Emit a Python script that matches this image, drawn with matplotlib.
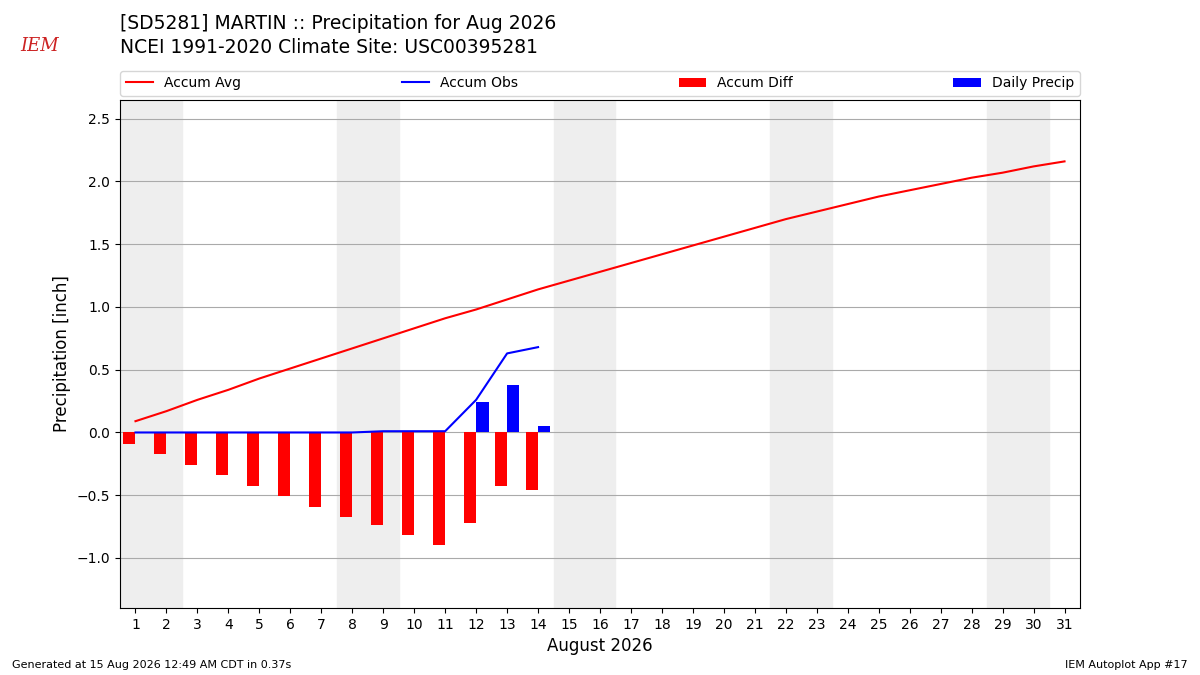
import matplotlib
matplotlib.use("Agg")
import matplotlib.pyplot as plt
import numpy as np

days = list(range(1, 32))
accum_avg = [0.09,0.17,0.26,0.34,0.43,0.51,0.59,0.67,0.75,0.83,0.91,0.98,1.06,1.14,1.21,1.28,1.35,1.42,1.49,1.56,1.63,1.70,1.76,1.82,1.88,1.93,1.98,2.03,2.07,2.12,2.16]
obs_days = list(range(1, 15))
accum_obs = [0,0,0,0,0,0,0,0,0.01,0.01,0.01,0.26,0.63,0.68]
daily_precip = [0,0,0,0,0,0,0,0,0.01,0,0,0.24,0.38,0.05]
weekends = [(1,2),(8,9),(15,16),(22,23),(29,30)]

fig = plt.figure(figsize=(12, 6.75), dpi=100)
ax = fig.add_axes([0.1, 0.099, 0.8, 0.753])
for a, b in weekends:
    ax.axvspan(a-0.5, b+0.5, color="#eeeeee", zorder=0)
diff = [o - accum_avg[i] for i, o in enumerate(accum_obs)]
od = np.array(obs_days)
ax.plot(days, accum_avg, color="red", lw=1.5, label="Accum Avg", zorder=3)
ax.plot(obs_days, accum_obs, color="blue", lw=1.5, label="Accum Obs", zorder=3)
ax.bar(od - 0.2, diff, width=0.4, color="red", label="Accum Diff", zorder=2)
ax.bar(od + 0.2, daily_precip, width=0.4, color="blue", label="Daily Precip", zorder=2)
ax.set_xlim(0.5, 31.5)
ax.set_ylim(-1.4, 2.65)
ax.set_xticks(days)
ax.set_yticks(np.arange(-1.0, 2.51, 0.5))
ax.grid(axis="y", color="#aaaaaa", zorder=1)
ax.set_axisbelow(True)
ax.set_xlabel("August 2026", fontsize=12)
ax.set_ylabel("Precipitation [inch]", fontsize=12)
h, l = ax.get_legend_handles_labels()
ax.legend(h, l, ncol=4, loc="lower left",
          bbox_to_anchor=(0, 1.008, 1, 0.05), mode="expand", borderaxespad=0, fontsize=10)
fig.text(0.1, 0.965, "[SD5281] MARTIN :: Precipitation for Aug 2026", fontsize=13.5, va="center")
fig.text(0.1, 0.93, "NCEI 1991-2020 Climate Site: USC00395281", fontsize=13.5, va="center")
fig.text(0.017, 0.925, "IEM", fontsize=13, color="#cc2222", style="italic", family="DejaVu Serif")
fig.text(0.01, 0.01, "Generated at 15 Aug 2026 12:49 AM CDT in 0.37s", fontsize=8)
fig.text(0.99, 0.01, "IEM Autoplot App #17", fontsize=8, ha="right")
fig.savefig("out.png")
